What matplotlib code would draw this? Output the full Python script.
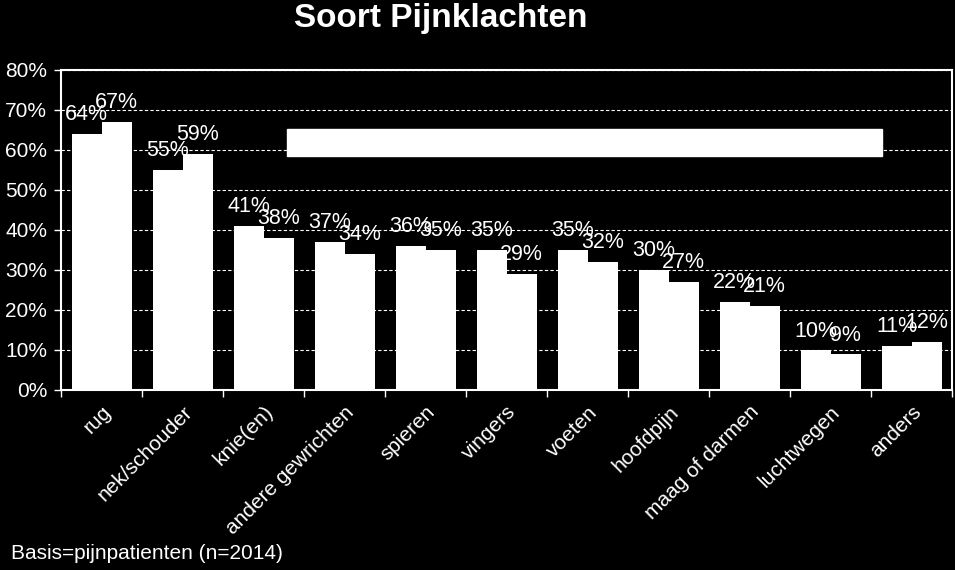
import matplotlib
matplotlib.use("Agg")
import matplotlib.pyplot as plt
import numpy as np
from matplotlib.patches import Rectangle

# data
categories = ["rug", "nek/schouder", "knie(en)", "andere gewrichten", "spieren",
              "vingers", "voeten", "hoofdpijn", "maag of darmen", "luchtwegen", "anders"]
serie_1 = [64, 55, 41, 37, 36, 35, 35, 30, 22, 10, 11]
serie_2 = [67, 59, 38, 34, 35, 29, 32, 27, 21, 9, 12]
y_ticks = [0, 10, 20, 30, 40, 50, 60, 70, 80]

plt.rcParams['font.family'] = ['Liberation Sans', 'DejaVu Sans']

fig = plt.figure(figsize=(9.55, 5.7), dpi=100, facecolor="black")
ax = fig.add_axes([0.064, 0.316, 0.933, 0.562])
ax.set_facecolor("black")

x = np.arange(len(categories))
w = 0.37
b1 = ax.bar(x - w / 2, serie_1, width=w, color="white", zorder=3)
b2 = ax.bar(x + w / 2, serie_2, width=w, color="white", zorder=3)

# value labels
for bars, vals in [(b1, serie_1), (b2, serie_2)]:
    for bar, v in zip(bars, vals):
        ax.annotate(f"{v}%", (bar.get_x() + bar.get_width() / 2, v),
                    xytext=(0, 6), textcoords="offset points",
                    ha="center", va="bottom", color="white", fontsize=15.5, zorder=4)

ax.set_xlim(-0.5, len(categories) - 0.5)
ax.set_ylim(0, 80)
ax.set_yticks(y_ticks)
ax.set_yticklabels([f"{t}%" for t in y_ticks])
ax.yaxis.grid(True, color="white", linestyle=(0, (3, 2)), linewidth=0.8, zorder=1)

ax.set_xticks(x)
ax.set_xticklabels(categories, rotation=45, ha="right", rotation_mode="anchor")
ax.set_xticks(np.arange(len(categories) + 1) - 0.5, minor=True)
ax.tick_params(axis="x", which="major", length=0, pad=9, colors="white", labelsize=15)
ax.tick_params(axis="x", which="minor", length=5, width=1, color="white", direction="out")
ax.tick_params(axis="y", length=5, width=1, colors="white", labelsize=15, pad=5)

for s in ax.spines.values():
    s.set_color("white")
    s.set_linewidth(1.5)

# empty legend box
ax.add_patch(Rectangle((0.2536, 0.730), 0.668, 0.084, transform=ax.transAxes,
                       facecolor="white", edgecolor="white", zorder=5))

fig.text(0.462, 0.995, "Soort Pijnklachten", ha="center", va="top",
         color="white", fontsize=24, fontweight="bold")
fig.text(0.012, 0.012, "Basis=pijnpatienten (n=2014)", ha="left", va="bottom",
         color="white", fontsize=15)

plt.savefig("out.png", dpi=100, facecolor="black")
